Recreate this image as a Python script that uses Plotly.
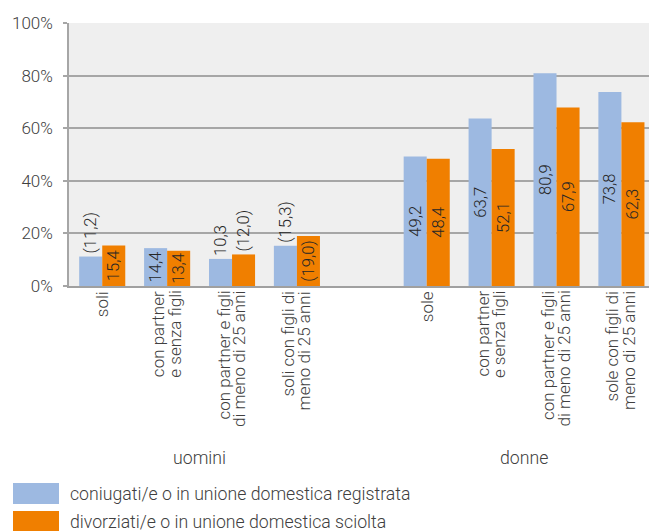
import plotly.graph_objects as go

# --- data -------------------------------------------------------------------
categories = [
    "soli",
    "con partner\ne senza figli",
    "con partner e figli\ndi meno di 25 anni",
    "soli con figli di\nmeno di 25 anni",
    "sole",
    "con partner\ne senza figli",
    "con partner e figli\ndi meno di 25 anni",
    "sole con figli di\nmeno di 25 anni",
]
# slot 4 is left empty to separate the two groups
positions = [0, 1, 2, 3, 5, 6, 7, 8]
groups = ["uomini", "donne"]
group_positions = [1.5, 6.5]

series_names = [
    "coniugati/e o in unione domestica registrata",
    "divorziati/e o in unione domestica sciolta",
]
coniugati = [11.2, 14.4, 10.3, 15.3, 49.2, 63.7, 80.9, 73.8]
divorziati = [15.4, 13.4, 12.0, 19.0, 48.4, 52.1, 67.9, 62.3]
# values shown in brackets (low statistical reliability)
coniugati_brackets = [True, False, False, True, False, False, False, False]
divorziati_brackets = [False, False, True, True, False, False, False, False]
coniugati_textpos = ["outside", "inside", "outside", "outside", "inside", "inside", "inside", "inside"]
divorziati_textpos = ["inside", "inside", "outside", "inside", "inside", "inside", "inside", "inside"]

y_ticks = [0, 20, 40, 60, 80, 100]

# --- style ------------------------------------------------------------------
BLUE = "#9DB9E1"
ORANGE = "#F07F00"
TEXT = "#404040"
FONT = "Roboto"
W, H = 649, 531
ML, MR, MT, MB = 69, 0, 23, 245


def fmt(v, brackets):
    s = f"{v:.1f}".replace(".", ",")
    return f"({s})" if brackets else s


def px_x(px):
    return (px - ML) / (W - ML - MR)


def px_y(py):
    return (H - MB - py) / (H - MT - MB)


fig = go.Figure()
for name, vals, br, tp, color in [
    (series_names[0], coniugati, coniugati_brackets, coniugati_textpos, BLUE),
    (series_names[1], divorziati, divorziati_brackets, divorziati_textpos, ORANGE),
]:
    fig.add_trace(go.Bar(
        name=name,
        x=positions,
        y=vals,
        marker=dict(color=color, line=dict(width=0)),
        text=[fmt(v, b) for v, b in zip(vals, br)],
        textposition=tp,
        textangle=-90,
        insidetextanchor="middle",
        constraintext="none",
        cliponaxis=False,
        textfont=dict(family=FONT, size=16.6, color="#262626", weight=300),
        showlegend=False,
        hoverinfo="skip",
    ))

annotations = []
# category labels, one annotation per line for tight line spacing
for pos, cat in zip(positions, categories):
    lines = cat.split("\n")
    offsets = [0] if len(lines) == 1 else [-9, 7]
    for line, off in zip(lines, offsets):
        annotations.append(dict(
            x=pos, y=0, xref="x", yref="y", xshift=off, yshift=-3,
            text=line, textangle=-90, showarrow=False,
            xanchor="center", yanchor="top",
            font=dict(family=FONT, size=17, color=TEXT, weight=300),
        ))

# group labels
for g, gp in zip(groups, group_positions):
    annotations.append(dict(
        x=gp, y=px_y(458), xref="x", yref="paper", text=g, showarrow=False,
        xanchor="center", yanchor="middle",
        font=dict(family=FONT, size=17.7, color=TEXT, weight=300),
    ))

# legend
shapes = []
for i, (name, color) in enumerate(zip(series_names, [BLUE, ORANGE])):
    top = 483 + i * 28
    shapes.append(dict(
        type="rect", xref="paper", yref="paper",
        x0=px_x(13), x1=px_x(59), y0=px_y(top), y1=px_y(top + 21),
        fillcolor=color, line=dict(width=0), layer="above",
    ))
    annotations.append(dict(
        x=px_x(68), y=px_y(top + 11), xref="paper", yref="paper",
        text=name, showarrow=False, xanchor="left", yanchor="middle",
        font=dict(family=FONT, size=17.7, color=TEXT, weight=300),
    ))

fig.update_layout(
    width=W, height=H,
    margin=dict(l=ML, r=MR, t=MT, b=MB, pad=0),
    paper_bgcolor="white",
    plot_bgcolor="#EFEFEF",
    barmode="group",
    bargap=0.29,
    bargroupgap=0,
    annotations=annotations,
    shapes=shapes,
    font=dict(family=FONT, color=TEXT),
    xaxis=dict(
        range=[-0.512, 8.425],
        showticklabels=False,
        showgrid=False,
        zeroline=False,
        showline=True,
        linecolor="#A0A0A0",
        linewidth=2,
        ticks="",
        fixedrange=True,
    ),
    yaxis=dict(
        range=[0, 100],
        tickvals=y_ticks,
        ticktext=[f"{v}%" for v in y_ticks],
        tickfont=dict(family=FONT, size=17, color=TEXT, weight=300),
        ticks="outside",
        ticklen=4,
        tickcolor="#A6A6A6",
        tickwidth=1.5,
        ticklabelstandoff=7,
        showgrid=True,
        gridcolor="#A6A6A6",
        gridwidth=1.5,
        zeroline=False,
        showline=True,
        linecolor="#A6A6A6",
        linewidth=1.5,
        fixedrange=True,
    ),
)

fig.write_html("out.html")
